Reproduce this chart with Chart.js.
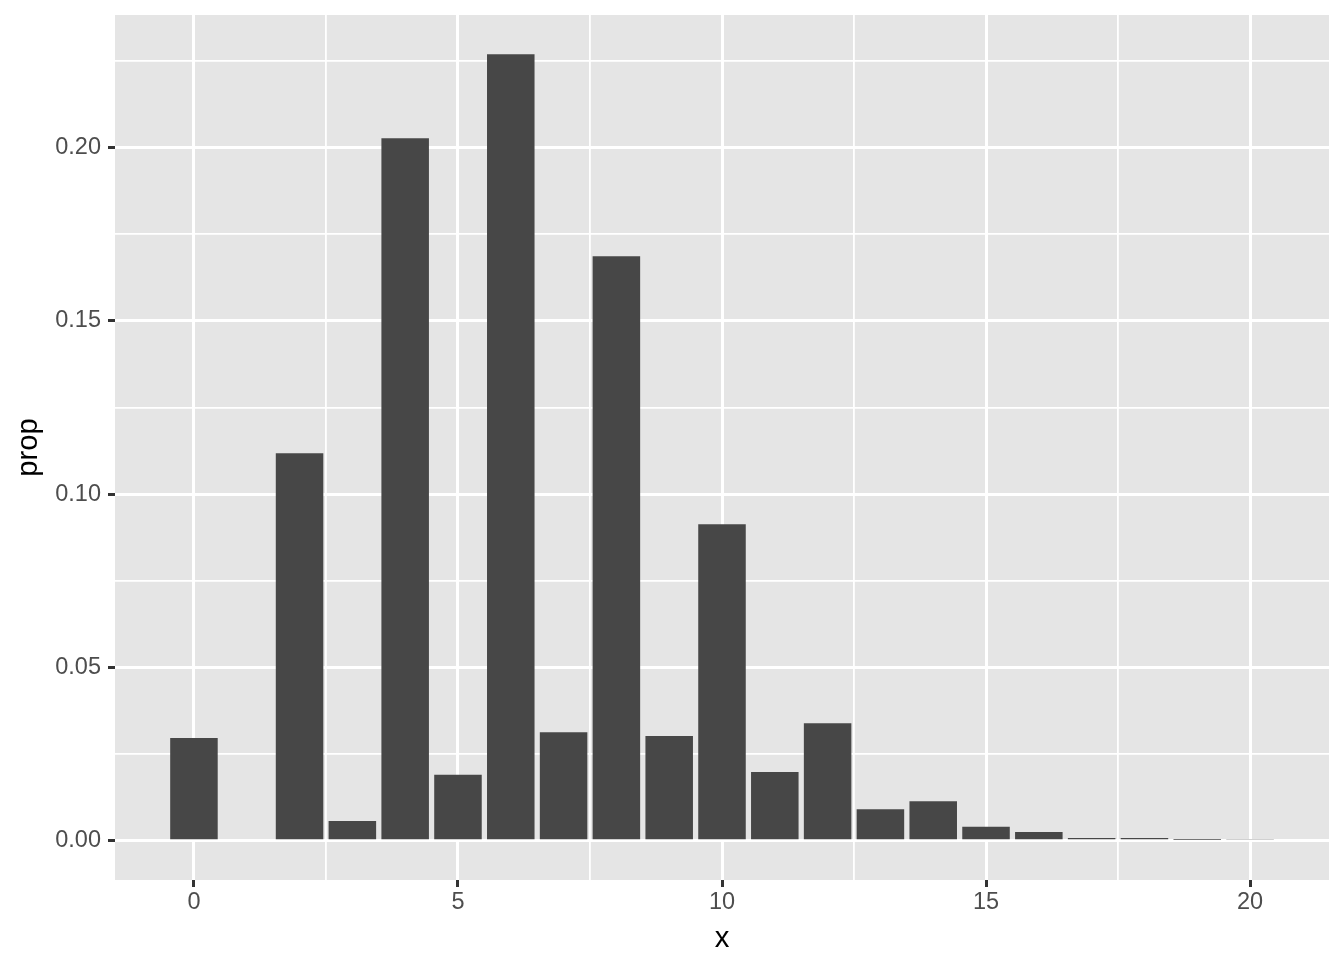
<!DOCTYPE html>
<html>
<head>
<meta charset="utf-8">
<script src="https://cdn.jsdelivr.net/npm/chart.js@4/dist/chart.umd.min.js"></script>
<style>
  html, body { margin: 0; padding: 0; background: #ffffff; }
  canvas { display: block; }
</style>
</head>
<body>
<canvas id="chart" width="1344" height="960"></canvas>
<script>
// ---- data ----
const xValues    = [0, 2, 3, 4, 5, 6, 7, 8, 9, 10, 11, 12, 13, 14, 15, 16, 17, 18, 19, 20];
const propValues = [0.0296, 0.1118, 0.0057, 0.2027, 0.0190, 0.2269, 0.0313, 0.1686, 0.0302, 0.0913,
                    0.0198, 0.0339, 0.0091, 0.0114, 0.0040, 0.0025, 0.0008, 0.0008, 0.0002, 0.0005];
const xMajorTicks = [0, 5, 10, 15, 20];
const xMinorTicks = [2.5, 7.5, 12.5, 17.5];
const yMajorTicks = [0, 0.05, 0.10, 0.15, 0.20];
const yMinorTicks = [0.025, 0.075, 0.125, 0.175, 0.225];
const xTitle = 'x';
const yTitle = 'prop';

// ---- styling ----
const PANEL_BG = '#E5E5E5';
const BAR_COLOR = '#474747';
const FONT = '"Liberation Sans", Arial, Helvetica, sans-serif';

const isIn = (arr, v) => arr.some(a => Math.abs(a - v) < 1e-9);

const panelBg = {
  id: 'panelBg',
  beforeDraw(chart) {
    const { ctx, chartArea: a } = chart;
    ctx.save();
    ctx.fillStyle = '#ffffff';
    ctx.fillRect(0, 0, chart.width, chart.height);
    ctx.fillStyle = PANEL_BG;
    ctx.fillRect(a.left, a.top, a.right - a.left, a.bottom - a.top);
    ctx.restore();
  }
};

function gridOpts(major) {
  return {
    offset: false,
    drawTicks: true,
    tickLength: 7,
    color: '#ffffff',
    lineWidth: ctx => (ctx.tick && isIn(major, ctx.tick.value)) ? 3 : 1.8,
    tickColor: ctx => (ctx.tick && isIn(major, ctx.tick.value)) ? '#333333' : 'rgba(0,0,0,0)',
    tickWidth: 3
  };
}

new Chart(document.getElementById('chart'), {
  type: 'bar',
  data: {
    datasets: [{
      data: xValues.map((x, i) => ({ x: x, y: propValues[i] })),
      backgroundColor: BAR_COLOR,
      borderWidth: 0,
      barPercentage: 0.9,
      categoryPercentage: 1.0
    }]
  },
  options: {
    responsive: false,
    animation: false,
    events: [],
    layout: { padding: { top: 15, right: 15, left: 0, bottom: 0 } },
    plugins: { legend: { display: false }, tooltip: { enabled: false }, title: { display: false } },
    scales: {
      x: {
        type: 'linear',
        offset: false,
        min: -1.495,
        max: 21.495,
        border: { display: false },
        grid: gridOpts(xMajorTicks),
        afterBuildTicks: s => { s.ticks = [...xMajorTicks, ...xMinorTicks].sort((a, b) => a - b).map(v => ({ value: v })); },
        afterFit: s => { s.height = 80; s.paddingLeft = 0; s.paddingRight = 0; },
        ticks: {
          autoSkip: false,
          maxRotation: 0,
          minRotation: 0,
          padding: 1,
          color: '#4D4D4D',
          font: { family: FONT, size: 23.5 },
          callback: v => isIn(xMajorTicks, v) ? String(Math.round(v)) : ''
        },
        title: {
          display: true,
          text: xTitle,
          color: '#000000',
          font: { family: FONT, size: 29.3 },
          padding: { top: 0, bottom: 4 }
        }
      },
      y: {
        type: 'linear',
        min: -0.011345,
        max: 0.238245,
        border: { display: false },
        grid: gridOpts(yMajorTicks),
        afterBuildTicks: s => { s.ticks = [...yMajorTicks, ...yMinorTicks].sort((a, b) => a - b).map(v => ({ value: v })); },
        afterFit: s => { s.width = 115; s.paddingTop = 0; s.paddingBottom = 0; },
        ticks: {
          autoSkip: false,
          padding: 7,
          color: '#4D4D4D',
          font: { family: FONT, size: 23.5 },
          callback: v => isIn(yMajorTicks, v) ? v.toFixed(2) : ''
        },
        title: {
          display: true,
          text: yTitle,
          color: '#000000',
          font: { family: FONT, size: 29.3 },
          padding: { top: 11, bottom: 0 }
        }
      }
    }
  },
  plugins: [panelBg]
});
</script>
</body>
</html>
